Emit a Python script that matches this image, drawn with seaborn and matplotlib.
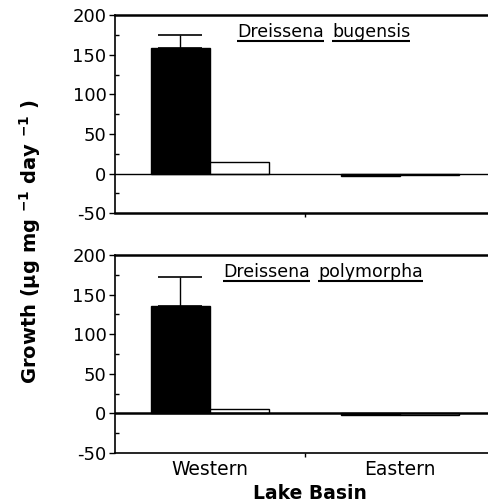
import matplotlib
matplotlib.use("Agg")
import matplotlib.pyplot as plt
import seaborn as sns
import pandas as pd
import numpy as np
from matplotlib.ticker import MultipleLocator, FixedLocator

# ---- data ----
basins = ["Western", "Eastern"]
groups = ["Black", "White"]
bugensis_black = [158, -3]
bugensis_white = [14, -2]
bugensis_err = [17, 0]
polymorpha_black = [136, -2]
polymorpha_white = [6, -2]
polymorpha_err = [36, 0]
yticks = [-50, 0, 50, 100, 150, 200]

sns.set_style("white")
plt.rcParams['font.family'] = ['DejaVu Sans']
plt.rcParams['axes.unicode_minus'] = False
plt.rcParams['text.color'] = 'black'
plt.rcParams['xtick.color'] = 'black'
plt.rcParams['ytick.color'] = 'black'
plt.rcParams['axes.labelcolor'] = 'black'

fig = plt.figure(figsize=(4.89, 5.04), dpi=100)
ax1 = fig.add_axes([0.235, 0.577, 0.777, 0.393])
ax2 = fig.add_axes([0.235, 0.101, 0.777, 0.393])


def make_df(black, white):
    rows = []
    for b, v in zip(basins, black):
        rows.append({"Basin": b, "Group": "Black", "Growth": v})
    for b, v in zip(basins, white):
        rows.append({"Basin": b, "Group": "White", "Growth": v})
    return pd.DataFrame(rows)


def underlined_title(ax, words, x0, y, fs=12.5):
    fig.canvas.draw()
    r = fig.canvas.get_renderer()
    x = x0
    for w in words:
        t = ax.text(x, y, w, transform=ax.transAxes, fontsize=fs, ha='left', va='baseline',
                    color='black')
        bb = t.get_window_extent(renderer=r)
        inv = ax.transAxes.inverted()
        (xa, ya), (xb, yb) = inv.transform([[bb.x0, bb.y0], [bb.x1, bb.y1]])
        ax.plot([xa, xb], [y - 0.018, y - 0.018], transform=ax.transAxes, color='black', lw=1.5,
                clip_on=False, solid_capstyle='butt')
        x = xb + 0.022


def panel(ax, black, white, err, zero_lw):
    df = make_df(black, white)
    sns.barplot(data=df, x="Basin", y="Growth", hue="Group", order=basins, hue_order=groups,
                palette=["black", "white"], edgecolor="black", linewidth=1.0, width=0.62,
                errorbar=None, legend=False, ax=ax, saturation=1)
    black_patches = ax.patches[:len(basins)]
    for p, v, e in zip(black_patches, black, err):
        if e > 0:
            xc = p.get_x() + p.get_width() / 2
            ax.errorbar([xc], [v], yerr=[[0], [e]], fmt='none', ecolor='black', elinewidth=1.0,
                        capsize=16, capthick=1.2)
    ax.axhline(0, color='black', lw=zero_lw, zorder=3)
    ax.set_xlim(-0.5, 1.5)
    ax.set_ylim(-50, 200)
    ax.set_yticks(yticks)
    ax.yaxis.set_minor_locator(MultipleLocator(25))
    ax.tick_params(axis='y', which='major', direction='out', length=4, width=1, labelsize=13,
                   pad=2, left=True, colors='black')
    ax.tick_params(axis='y', which='minor', direction='in', length=3, width=1, left=True, colors='black')
    ax.set_xticks([0, 1])
    ax.xaxis.set_minor_locator(FixedLocator([0.5]))
    ax.tick_params(axis='x', which='major', length=0, labelsize=13.5, pad=5, colors='black')
    ax.tick_params(axis='x', which='minor', direction='out', length=3, width=1, bottom=True, colors='black')
    ax.spines['right'].set_visible(False)
    ax.spines['top'].set_linewidth(1.8)
    ax.spines['bottom'].set_linewidth(1.8)
    ax.spines['left'].set_linewidth(1.2)
    for s in ax.spines.values():
        s.set_color('black')
    ax.set_ylabel("")
    ax.set_xlabel("")


panel(ax1, bugensis_black, bugensis_white, bugensis_err, 1.0)
panel(ax2, polymorpha_black, polymorpha_white, polymorpha_err, 1.8)
ax2.spines['bottom'].set_linewidth(1.2)
ax1.set_xticklabels([])
ax2.set_xticklabels(basins)

underlined_title(ax1, ["Dreissena", "bugensis"], 0.321, 0.889)
underlined_title(ax2, ["Dreissena", "polymorpha"], 0.284, 0.889)

fig.text(0.061, 0.52, r"Growth ($\mathbf{\mu}$g mg $^{\mathbf{-1}}$ day $^{\mathbf{-1}}$ )", rotation=90,
         ha='center', va='center', fontsize=14, fontweight='bold', color='black')
fig.text(0.634, 0.021, "Lake Basin", ha='center', va='center', fontsize=13.5, fontweight='bold',
         color='black')

fig.savefig("out.png", dpi=100)
